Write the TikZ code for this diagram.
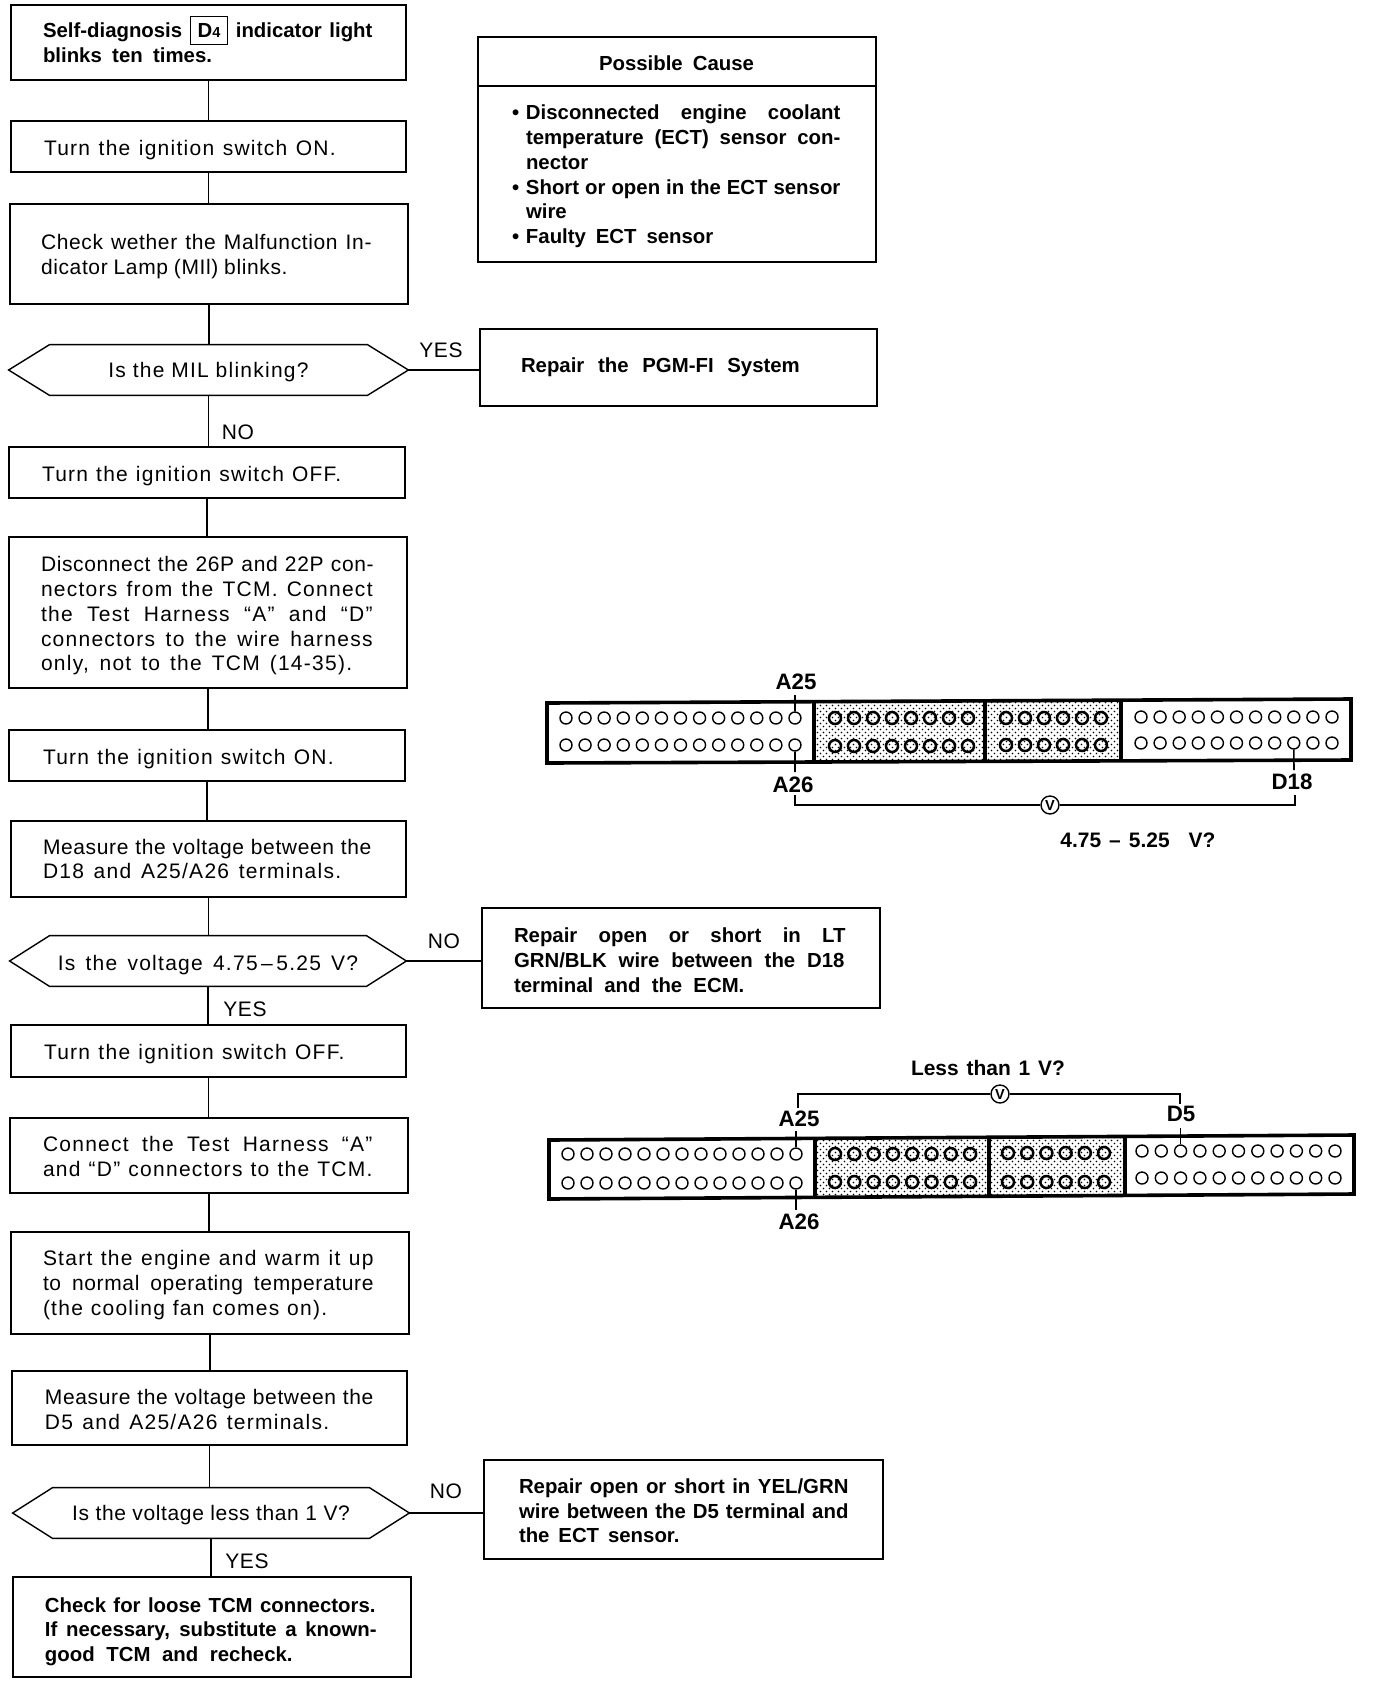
\documentclass[tikz,border=0pt]{standalone}
\usepackage{fontspec}
\setmainfont{Liberation Sans}[LetterSpace=3,BoldFeatures={LetterSpace=0,Scale=0.97}]
\usetikzlibrary{patterns,calc}
\pgfdeclarepatternformonly{fineDots}{\pgfqpoint{-0.5pt}{-0.5pt}}{\pgfqpoint{3.5pt}{3.5pt}}{\pgfqpoint{3pt}{3pt}}{%
  \pgfpathcircle{\pgfqpoint{0.75pt}{0.75pt}}{0.42pt}%
  \pgfpathcircle{\pgfqpoint{2.25pt}{2.25pt}}{0.42pt}%
  \pgfusepath{fill}}
\newcommand\jl[2]{\makebox[0.53835\dimexpr #1pt\relax][s]{\spaceskip=0pt\relax #2}}
\newcommand\jL[2]{\makebox[0.53835\dimexpr #1pt\relax][s]{\addfontfeature{LetterSpace=6}\spaceskip=0pt\relax #2}}
\newcommand\bul{\makebox[7pt][l]{\textbullet}}
\newcommand\nobul{\hspace*{7pt}}
\newcommand\dn[1]{\rule{0pt}{\dimexpr 7.7pt+1.08\dimexpr #1pt\relax\relax}}
\newcommand\dt[2]{\raisebox{-#1pt}[4pt][4pt]{#2}}
\newcommand\fb[7]{%
  \pgfmathsetmacro\bw{(#4-#2)*.5}%
  \pgfmathsetmacro\bh{(#5-#3)*.5}%
  \pgfmathsetmacro\bt{(#4-#2-2*#6)*.5}%
  \pgfmathsetmacro\bp{#6*.5}%
  \pgfmathsetmacro\bx{(#2+#4)/2}%
  \pgfmathsetmacro\by{(#3+#5)/2}%
  \node[fbox,minimum height=\bh pt,inner xsep=\bp pt,text width=\bt pt] (#1) at (\bx,\by) {#7};}
\newcommand\dm[6]{%
  \pgfmathsetmacro\bw{(#3-#2)*.5}%
  \pgfmathsetmacro\bx{(#2+#3)/2}%
  \node[dtext,minimum width=\bw pt] (#1) at (\bx,#4) {#6};
  \draw[flow] (#1.west) -- ($(#1.north west)+(#5,0)$) -- ($(#1.north east)+(-#5,0)$) -- (#1.east) -- ($(#1.south east)+(-#5,0)$) -- ($(#1.south west)+(#5,0)$) -- cycle;}
\tikzset{
  flow/.style={line width=0.7pt,black},
  conn/.style={line width=0.9pt,black},
  txt/.style={font=\fontsize{10.5}{12.4}\selectfont,inner sep=0pt},
  fbox/.style={txt,draw,flow,align=left,inner ysep=0pt},
  dtext/.style={txt,minimum height=25pt,align=center},
  lab/.style={txt},
  blab/.style={font=\fontsize{11.5}{13}\selectfont\bfseries\addfontfeature{LetterSpace=6},inner sep=0pt},
  bcap/.style={font=\fontsize{10.8}{13}\selectfont\bfseries\addfontfeature{LetterSpace=5},inner sep=0pt},
  hole/.style={circle,draw,line width=0.7pt,minimum size=6pt,inner sep=0pt,fill=white},
  shole/.style={circle,draw,line width=1.25pt,minimum size=6pt,inner sep=0pt},
  meter/.style={circle,draw,line width=0.7pt,minimum size=9pt,inner sep=0pt,fill=white,font=\fontsize{7.5}{8}\selectfont\bfseries},
  shell/.style={line width=1.8pt,black,line join=miter},
  pin/.style={line width=0.8pt,black},
}
\begin{document}
\begin{tikzpicture}[x=.5pt,y=-.5pt]
\useasboundingbox (0,0) rectangle (1376,1688);
\fill[white] (0,0) rectangle (1376,1688);
% left column
\fb{b1}{11}{5}{406}{80}{32}{\bfseries\jl{306}{Self-diagnosis \smash{\fboxsep=0pt\fboxrule=.4pt\fbox{\rule[-3.3pt]{0pt}{13.5pt}\hspace{3.5pt}D{\fontsize{7.5}{8}\selectfont 4}\hspace{3.5pt}}} indicator light}\\\jl{157}{blinks ten times.}}
\fb{b2}{11}{121}{406}{172}{33}{\dn{3.5}\jL{271}{Turn the ignition switch ON.}}
\fb{b3}{10}{204}{408}{304}{31}{\dn{2}\jl{307}{Check wether the Malfunction In-}\\\jl{229}{dicator Lamp (MIl) blinks.}}
\dm{d1}{9}{408}{370}{41}{\dt{3.9}{\jL{186}{Is the MIL blinking?}}}
\fb{b4}{9}{447}{405}{498}{33}{\dn{3.5}\jL{278}{Turn the ignition switch OFF.}}
\fb{b5}{9}{537}{407}{688}{32}{\dn{3}\jl{309}{Disconnect the 26P and 22P con-}\\\jL{308}{nectors from the TCM. Connect}\\\jL{308}{the Test Harness “A” and “D”}\\\jL{308}{connectors to the wire harness}\\\jL{289}{only, not to the TCM (14-35).}}
\fb{b6}{9}{730}{405}{781}{34}{\dn{3}\jL{270}{Turn the ignition switch ON.}}
\fb{b7}{11}{821}{406}{897}{32}{\jl{305}{Measure the voltage between the}\\\jL{277}{D18 and A25/A26 terminals.}}
\dm{d2}{10}{406}{961}{40}{\dt{4.5}{\jL{279}{Is the voltage 4.75\,–\,5.25 V?}}}
\fb{b8}{11}{1025}{406}{1077}{33}{\dn{3}\jL{279}{Turn the ignition switch OFF.}}
\fb{b9}{10}{1118}{408}{1193}{33}{\dn{1}\jL{306}{Connect the Test Harness “A”}\\\jL{306}{and “D” connectors to the TCM.}}
\fb{b10}{11}{1232}{409}{1334}{32}{\dn{2}\jL{307}{Start the engine and warm it up}\\\jl{307}{to normal operating temperature}\\\jL{264}{(the cooling fan comes on).}}
\fb{b11}{12}{1371}{407}{1445}{33}{\dn{1}\jl{305}{Measure the voltage between the}\\\jL{264}{D5 and A25/A26 terminals.}}
\dm{d3}{13}{409}{1513}{40}{\dt{3.7}{\jl{258}{Is the voltage less than 1 V?}}}
\fb{b12}{13}{1577}{411}{1677}{32}{\dn{4}\bfseries\jl{307}{Check for loose TCM connectors.}\\\jl{308}{If necessary, substitute a known-}\\\jl{230}{good TCM and recheck.}}
% right column
\fb{c1}{478}{37}{876}{86}{121}{\dn{1}\bfseries\jl{144}{Possible Cause}}
\fb{c2}{478}{86}{876}{262}{34}{\dn{2}\bfseries\bul\jl{292}{Disconnected engine coolant}\\\nobul\jl{292}{temperature (ECT) sensor con-}\\\nobul\jl{60}{nector}\\\bul\jl{292}{Short or open in the ECT sensor}\\\nobul\jl{41}{wire}\\\bul\jl{174}{Faulty ECT sensor}}
\fb{r1}{480}{329}{877}{406}{41}{\bfseries\jl{259}{Repair the PGM-FI System}}
\fb{r2}{482}{908}{880}{1008}{32}{\dn{2}\bfseries\jl{308}{Repair open or short in LT}\\\jl{307}{GRN/BLK wire between the D18}\\\jl{214}{terminal and the ECM.}}
\fb{r3}{484}{1460}{883}{1559}{35}{\dn{1}\bfseries\jl{306}{Repair open or short in YEL/GRN}\\\jl{306}{wire between the D5 terminal and}\\\jl{149}{the ECT sensor.}}
% labels on connectors
\node[lab] (yes1) at (441,350) {YES};
\node[lab] (no1) at (238,432) {NO};
\node[lab] (no2) at (444,941) {NO};
\node[lab] (yes2) at (245,1009) {YES};
\node[lab] (no3) at (446,1491) {NO};
\node[lab] (yes3) at (247,1561) {YES};
% connectors
\foreach \a/\b in {b1/b2,b2/b3,b3/d1,d1/b4,b4/b5,b5/b6,b6/b7,b7/d2,d2/b8,b8/b9,b9/b10,b10/b11,b11/d3,d3/b12}
  \draw[conn] (\a.south) -- (\a.south |- \b.north);
\draw[conn] (d1.east) -- (d1.east -| r1.west);
\draw[conn] (d2.east) -- (d2.east -| r2.west);
\draw[conn] (d3.east) -- (d3.east -| r3.west);
% upper connector diagram
\fill[pattern=fineDots] (814,702) -- (1121,700) -- (1121,760) -- (814,762) -- cycle;
\draw[shell] (547,703) -- (1351,699) -- (1351,760) -- (547,763) -- cycle;
\draw[shell] (814,702) -- (814,762);
\draw[shell] (985,701) -- (985,761);
\draw[shell] (1121,700) -- (1121,760);
\foreach \i in {0,...,12} {
  \node[hole] (pa\i) at ({566+\i*19.08},718) {};
  \node[hole] (pb\i) at ({566+\i*19.08},745) {};}
\foreach \i in {0,...,7} {
  \node[shole] (qa\i) at ({835+\i*19},718) {};
  \node[shole] (qb\i) at ({835+\i*19},746) {};}
\foreach \i in {0,...,5} {
  \node[shole] (sa\i) at ({1006+\i*19},718) {};
  \node[shole] (sb\i) at ({1006+\i*19},745) {};}
\foreach \i in {0,...,10} {
  \node[hole] (ta\i) at ({1141+\i*19.1},717) {};
  \node[hole] (tb\i) at ({1141+\i*19.1},743) {};}
\node[blab] (la25) at (796,682) {A25};
\node[blab] (la26) at (793,785) {A26};
\node[blab] (ld18) at (1292,782) {D18};
\node[bcap] (lv1) at (1138,840) {\jl{144}{4.75\hspace{4pt}–\hspace{4pt}5.25 V?}};
\node[meter] (m1) at (1050,805) {V};
\coordinate (e1a) at (795,695);
\coordinate (e1b) at (795,772);
\coordinate (e1c) at (1294,770);
\coordinate (w1l) at (795,795);
\coordinate (w1r) at (1295,795);
\draw[pin] (e1a) -- (pa12.north);
\draw[pin] (pb12.south) -- (e1b);
\draw[pin] (tb8.south) -- (e1c);
\draw[pin] (w1l) |- (m1.west);
\draw[pin] (m1.east) -| (w1r);
% lower connector diagram
\fill[pattern=fineDots] (815,1139) -- (1125,1136) -- (1125,1194) -- (815,1197) -- cycle;
\draw[shell] (549,1140) -- (1354,1135) -- (1354,1194) -- (549,1199) -- cycle;
\draw[shell] (815,1139) -- (815,1198);
\draw[shell] (989,1138) -- (989,1197);
\draw[shell] (1125,1136) -- (1125,1195);
\foreach \i in {0,...,12} {
  \node[hole] (ua\i) at ({568+\i*19},1154) {};
  \node[hole] (ub\i) at ({568+\i*19},1183) {};}
\foreach \i in {0,...,7} {
  \node[shole] (va\i) at ({835+\i*19.3},1154) {};
  \node[shole] (vb\i) at ({835+\i*19.3},1182) {};}
\foreach \i in {0,...,5} {
  \node[shole] (xa\i) at ({1008+\i*19.2},1153) {};
  \node[shole] (xb\i) at ({1008+\i*19.2},1182) {};}
\foreach \i in {0,...,10} {
  \node[hole] (za\i) at ({1142+\i*19.3},1151) {};
  \node[hole] (zb\i) at ({1142+\i*19.3},1178) {};}
\node[blab] (ma25) at (799,1119) {A25};
\node[blab] (ma26) at (799,1222) {A26};
\node[blab] (md5) at (1181,1114) {D5};
\node[bcap] (lv2) at (988,1068) {\jl{143}{Less than 1 V?}};
\node[meter] (m2) at (1000,1094) {V};
\coordinate (e2a) at (796,1131);
\coordinate (e2b) at (796,1210);
\coordinate (e2c) at (1180.6,1128);
\coordinate (w2l) at (798,1108);
\coordinate (w2r) at (1180,1104);
\draw[pin] (e2a) -- (ua12.north);
\draw[pin] (ub12.south) -- (e2b);
\draw[pin] (e2c) -- (za2.north);
\draw[pin] (w2l) |- (m2.west);
\draw[pin] (m2.east) -| (w2r);
\end{tikzpicture}
\end{document}
